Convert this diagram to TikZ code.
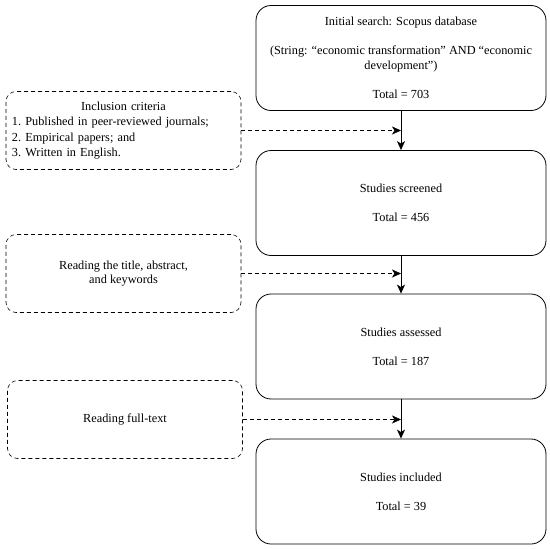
\documentclass[tikz,border=0pt]{standalone}
\usepackage{fontspec}
\setmainfont{Liberation Serif}
\usetikzlibrary{arrows.meta}
\begin{document}
\begin{tikzpicture}[
x=1pt, y=-1pt,
font=\fontsize{12.3}{14.5}\selectfont,
stage/.style = {draw,thick,rounded corners=15pt,minimum width=290pt,minimum height=105pt,align=center,inner sep=2pt},
crit/.style = {draw,semithick,dash pattern=on 4pt off 3pt,rounded corners=10pt,minimum width=235pt,minimum height=78pt,inner sep=2pt},
flow/.style = {draw,->,thick,>={Stealth[length=9pt,width=8pt,inset=2.5pt]}},
side/.style = {draw,->,semithick,dash pattern=on 4pt off 3pt,>={Stealth[length=9pt,width=8pt,inset=2.5pt]}}
]
  \useasboundingbox (0,0) rectangle (550,549);

  \node[stage] (s1) at (401,58) {Initial search: Scopus database\\[14.5pt]
    (String: “economic transformation” AND “economic\\ development”)\\[14.5pt]
    Total = 703};
  \node[stage] (s2) at (401,203) {Studies screened\\[14.5pt]Total = 456};
  \node[stage] (s3) at (401,346.5) {Studies assessed\\[14.5pt]Total = 187};
  \node[stage] (s4) at (401,491.5) {Studies included\\[14.5pt]Total = 39};

  \node[crit,text width=223pt,align=left,font=\fontsize{12.3}{15.5}\selectfont] (c1) at (123.5,130.5) {%
    \makebox[\linewidth][c]{Inclusion criteria}\\
    1.\ Published in peer-reviewed journals;\\
    2.\ Empirical papers; and\\
    3.\ Written in English.};
  \node[crit,align=center] (c2) at (123.5,273.5) {Reading the title, abstract,\\and keywords};
  \node[crit,align=center] (c3) at (125,419.5) {Reading full-text};

  \path[flow] (s1) -- (s2);
  \path[flow] (s2) -- (s3);
  \path[flow] (s3) -- (s4);

  \path[side] (c1.east) -- (c1.east -| s1.south);
  \path[side] (c2.east) -- (c2.east -| s2.south);
  \path[side] (c3.east) -- (c3.east -| s3.south);

\end{tikzpicture}
\end{document}
